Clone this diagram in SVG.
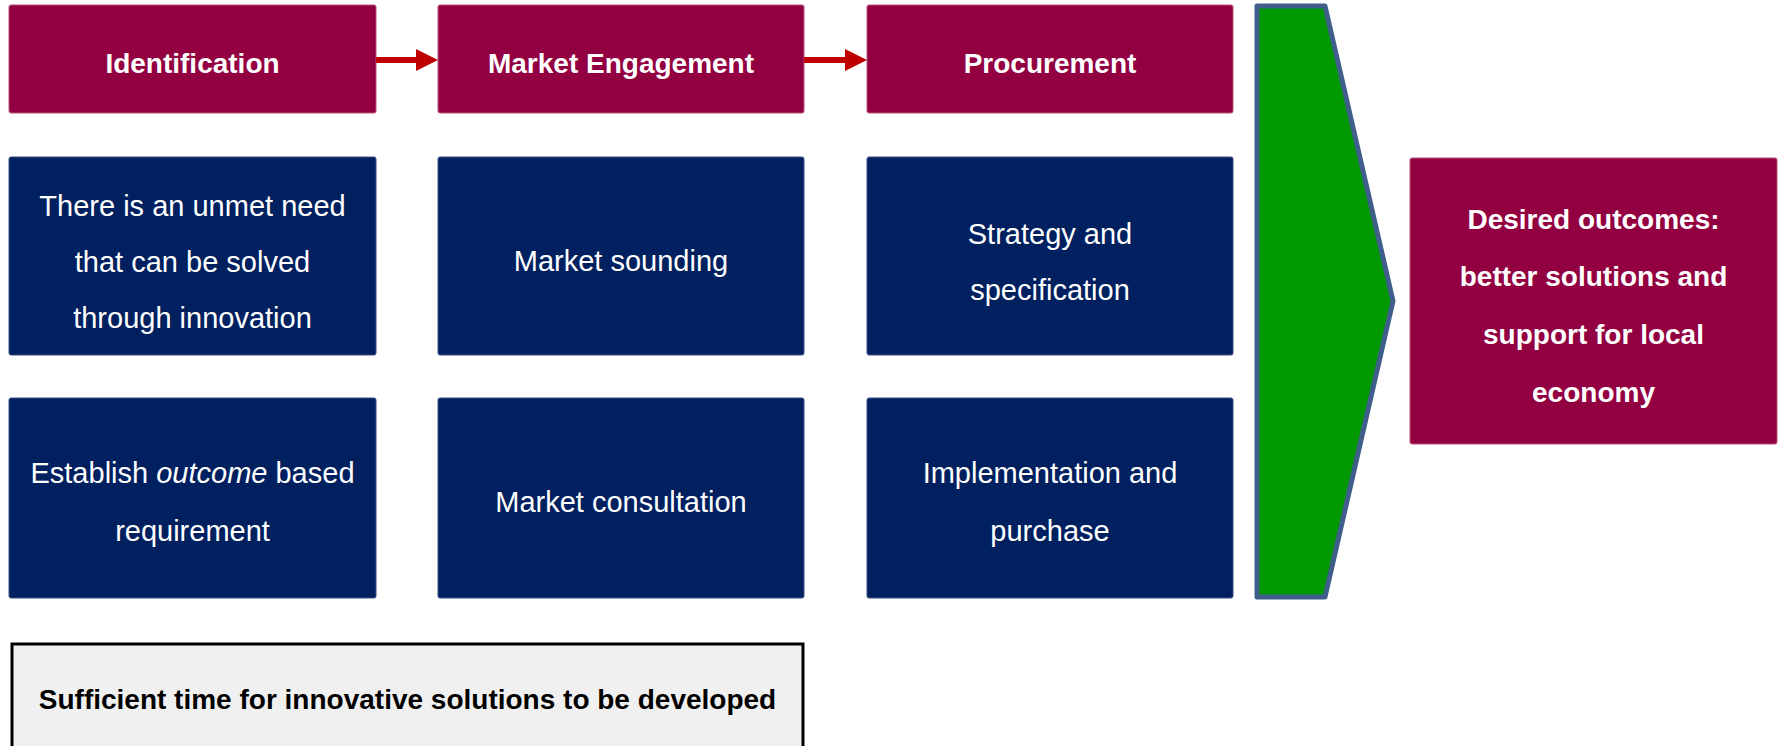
<svg xmlns="http://www.w3.org/2000/svg" width="1779" height="746" viewBox="0 0 1779 746">
<style>
.hdr{fill:#920041;stroke:#b8507a;stroke-width:1}
.blue{fill:#00205f;stroke:#3a4f85;stroke-width:1}
.t{font-family:"Liberation Sans",Arial,sans-serif;fill:#fff;text-anchor:middle}
.b{font-weight:bold;font-size:28px}
.r{font-size:29px}
.arrow{fill:#c00000}
</style>
<rect width="1779" height="746" fill="#fff"/>
<g id="identification"><rect class="hdr" x="9" y="5" width="367" height="108" rx="2"/><text class="t b" x="192.5" y="73">Identification</text></g>
<g id="market-engagement"><rect class="hdr" x="438" y="5" width="366" height="108" rx="2"/><text class="t b" x="621" y="73">Market Engagement</text></g>
<g id="procurement"><rect class="hdr" x="867" y="5" width="366" height="108" rx="2"/><text class="t b" x="1050" y="73">Procurement</text></g>
<g id="connectors">
<polygon class="arrow" points="376,57 416,57 416,49 438,60 416,71 416,63 376,63"/>
<polygon class="arrow" points="804,57 845,57 845,49 867,60 845,71 845,63 804,63"/>
</g>
<g id="unmet-need"><rect class="blue" x="9" y="157" width="367" height="198" rx="2"/><text class="t r" x="192.5" y="216">There is an unmet need</text><text class="t r" x="192.5" y="272">that can be solved</text><text class="t r" x="192.5" y="328">through innovation</text></g>
<g id="market-sounding"><rect class="blue" x="438" y="157" width="366" height="198" rx="2"/><text class="t r" x="621" y="271">Market sounding</text></g>
<g id="strategy"><rect class="blue" x="867" y="157" width="366" height="198" rx="2"/><text class="t r" x="1050" y="244">Strategy and</text><text class="t r" x="1050" y="300">specification</text></g>
<g id="establish"><rect class="blue" x="9" y="398" width="367" height="200" rx="2"/><text class="t r" x="192.5" y="483">Establish <tspan font-style="italic">outcome</tspan> based</text><text class="t r" x="192.5" y="541">requirement</text></g>
<g id="market-consultation"><rect class="blue" x="438" y="398" width="366" height="200" rx="2"/><text class="t r" x="621" y="512">Market consultation</text></g>
<g id="implementation"><rect class="blue" x="867" y="398" width="366" height="200" rx="2"/><text class="t r" x="1050" y="483">Implementation and</text><text class="t r" x="1050" y="541">purchase</text></g>
<g id="chevron"><path d="M1257,6 L1325,6 L1393,301 L1325,597 L1257,597 Z" fill="#009900" stroke="#3f5e8c" stroke-width="5" stroke-linejoin="round"/></g>
<g id="desired-outcomes"><rect class="hdr" x="1410" y="158" width="367" height="286" rx="2"/><text class="t b" x="1593.5" y="229">Desired outcomes:</text><text class="t b" x="1593.5" y="286">better solutions and</text><text class="t b" x="1593.5" y="344">support for local</text><text class="t b" x="1593.5" y="402">economy</text></g>
<g id="sufficient-time"><rect x="12" y="644" width="791" height="110" fill="#f0f0f0" stroke="#000" stroke-width="3"/><text x="407.5" y="709" font-family="Liberation Sans,Arial,sans-serif" font-weight="bold" font-size="28" text-anchor="middle" fill="#000">Sufficient time for innovative solutions to be developed</text></g>
</svg>
